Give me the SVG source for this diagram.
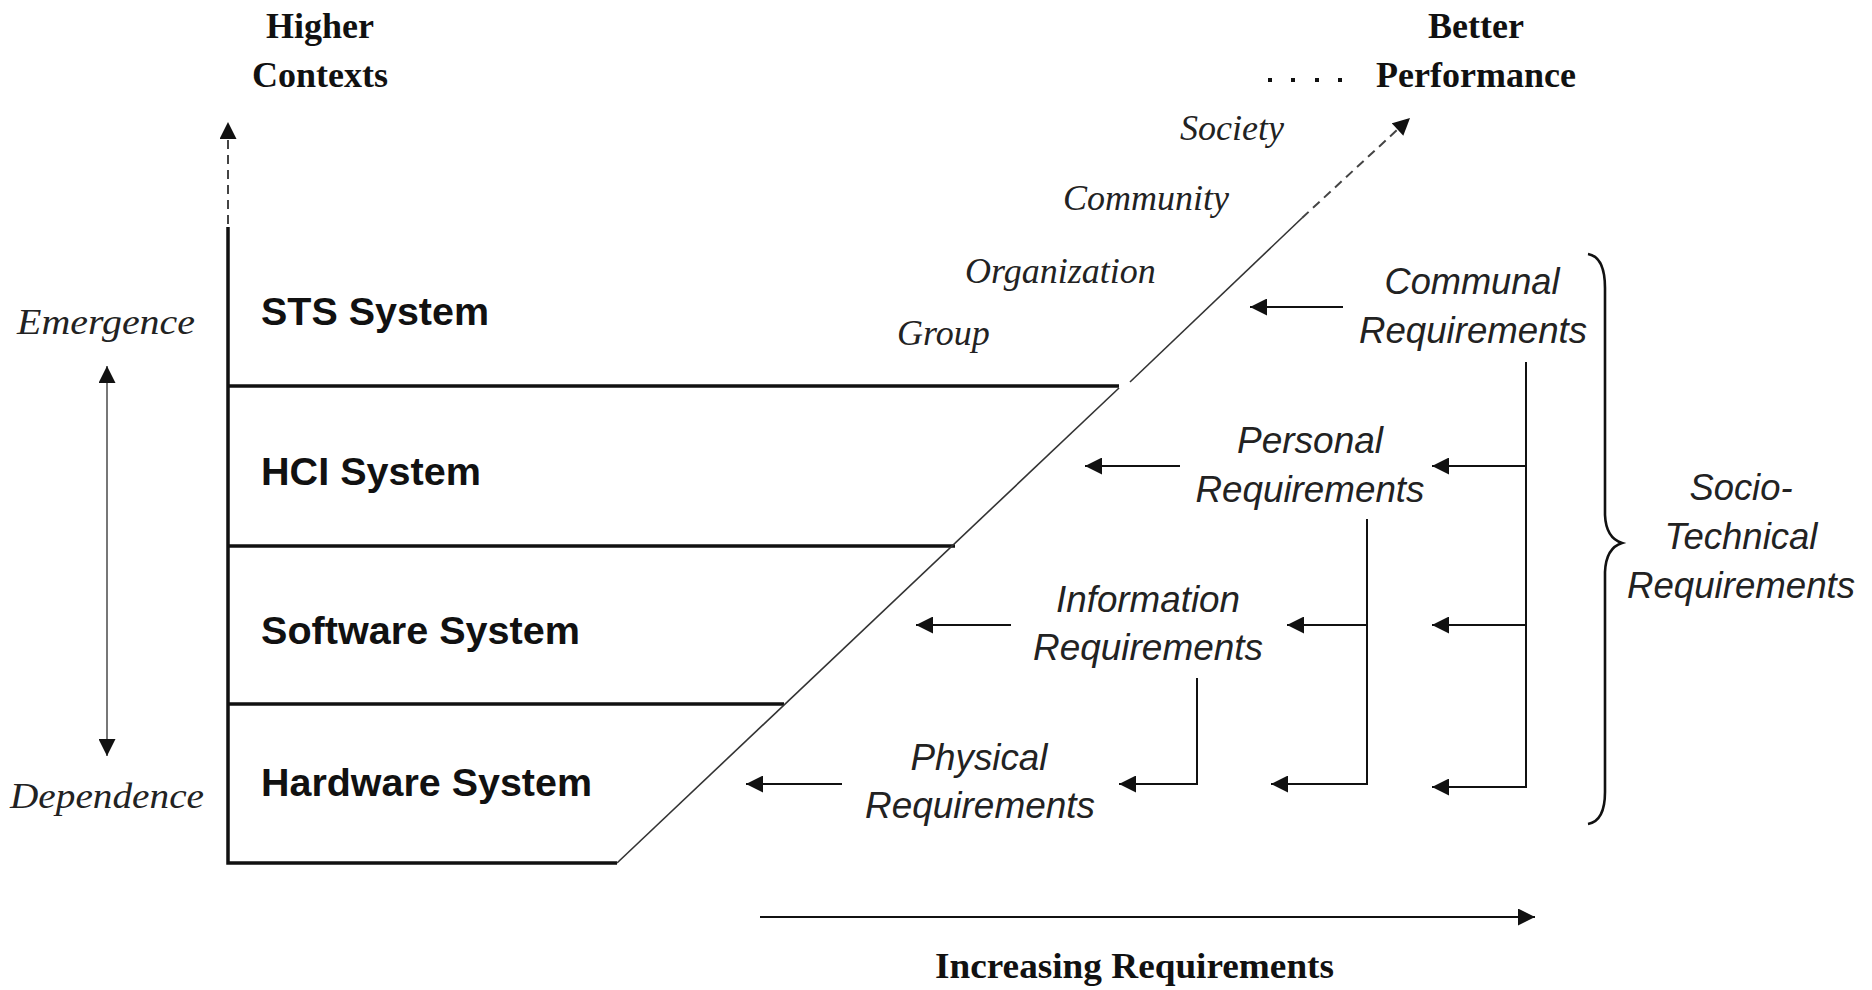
<svg xmlns="http://www.w3.org/2000/svg" width="1872" height="990" viewBox="0 0 1872 990">
<style>
.bg{fill:#fff}
.hdr{font-family:"Liberation Serif","Times New Roman",serif;font-weight:bold;font-size:36px;fill:#111}
.ctx{font-family:"Liberation Serif","Times New Roman",serif;font-style:italic;font-size:36px;fill:#222}
.lay{font-family:"Liberation Sans",Arial,sans-serif;font-weight:bold;font-size:39px;fill:#111}
.req{font-family:"Liberation Sans",Arial,sans-serif;font-style:italic;font-size:37px;fill:#222;text-anchor:middle}
.box{stroke:#111;stroke-width:3.5;fill:none}
.diag{stroke:#333;stroke-width:1.6;fill:none}
.con{stroke:#111;stroke-width:2;fill:none}
.dash{stroke:#444;stroke-width:2;fill:none;stroke-dasharray:9 6}
.thin{stroke:#555;stroke-width:1.6;fill:none}
</style>
<defs>
<marker id="ah" viewBox="0 0 10 10" refX="10" refY="5" markerWidth="18" markerHeight="17" markerUnits="userSpaceOnUse" orient="auto-start-reverse">
<path d="M0,0 L10,5 L0,10 z" fill="#111"/>
</marker>
</defs>
<rect class="bg" x="0" y="0" width="1872" height="990"/>

<g id="axis-labels">
<text class="hdr" x="320" y="38" text-anchor="middle">Higher</text>
<text class="hdr" x="320" y="87" text-anchor="middle">Contexts</text>
<text class="hdr" x="1476" y="38" text-anchor="middle">Better</text>
<text class="hdr" x="1476" y="87" text-anchor="middle">Performance</text>
<g fill="#111">
<rect x="1268" y="78" width="4" height="4"/>
<rect x="1291" y="78" width="4" height="4"/>
<rect x="1315" y="78" width="4" height="4"/>
<rect x="1338" y="78" width="4" height="4"/>
</g>
<text class="ctx" x="17" y="334" textLength="178" lengthAdjust="spacingAndGlyphs" font-size="34">Emergence</text>
<text class="ctx" x="10" y="808" textLength="194" lengthAdjust="spacingAndGlyphs" font-size="34">Dependence</text>
<text class="hdr" x="935" y="978" textLength="399" lengthAdjust="spacingAndGlyphs">Increasing Requirements</text>
</g>

<g id="contexts">
<text class="ctx" x="1180" y="140">Society</text>
<text class="ctx" x="1063" y="210">Community</text>
<text class="ctx" x="965" y="283">Organization</text>
<text class="ctx" x="897" y="345">Group</text>
</g>

<g id="structure">
<path class="box" d="M228,227 V863 H617"/>
<path class="box" d="M228,386 H1119"/>
<path class="box" d="M228,546 H955"/>
<path class="box" d="M228,704 H784"/>
<path class="diag" d="M617,863 L1119,388"/>
<path class="diag" d="M1130,382 L1302,218"/>
</g>

<g id="layer-sts"><text class="lay" x="261" y="325" textLength="228" lengthAdjust="spacingAndGlyphs">STS System</text></g>
<g id="layer-hci"><text class="lay" x="261" y="485" textLength="220" lengthAdjust="spacingAndGlyphs">HCI System</text></g>
<g id="layer-software"><text class="lay" x="261" y="644" textLength="319" lengthAdjust="spacingAndGlyphs">Software System</text></g>
<g id="layer-hardware"><text class="lay" x="261" y="796" textLength="331" lengthAdjust="spacingAndGlyphs">Hardware System</text></g>

<g id="req-communal">
<text class="req" x="1472" y="294" textLength="175" lengthAdjust="spacingAndGlyphs">Communal</text>
<text class="req" x="1473" y="343" textLength="228" lengthAdjust="spacingAndGlyphs">Requirements</text>
</g>
<g id="req-personal">
<text class="req" x="1310" y="453" textLength="146" lengthAdjust="spacingAndGlyphs">Personal</text>
<text class="req" x="1310" y="502" textLength="229" lengthAdjust="spacingAndGlyphs">Requirements</text>
</g>
<g id="req-information">
<text class="req" x="1148" y="612" textLength="184" lengthAdjust="spacingAndGlyphs">Information</text>
<text class="req" x="1148" y="660" textLength="230" lengthAdjust="spacingAndGlyphs">Requirements</text>
</g>
<g id="req-physical">
<text class="req" x="979" y="770" textLength="137" lengthAdjust="spacingAndGlyphs">Physical</text>
<text class="req" x="980" y="818" textLength="230" lengthAdjust="spacingAndGlyphs">Requirements</text>
</g>
<g id="req-sociotechnical">
<text class="req" x="1741" y="500" textLength="103" lengthAdjust="spacingAndGlyphs">Socio-</text>
<text class="req" x="1741" y="549" textLength="153" lengthAdjust="spacingAndGlyphs">Technical</text>
<text class="req" x="1741" y="598" textLength="228" lengthAdjust="spacingAndGlyphs">Requirements</text>
<path d="M1588,254 Q1605,257 1605,288 L1605,515 Q1606,538 1622,543 Q1606,548 1605,572 L1605,792 Q1605,821 1588,824" fill="none" stroke="#111" stroke-width="2.6"/>
</g>

<g id="connectors">
<path class="dash" d="M228,224 V122" marker-end="url(#ah)"/>
<path class="thin" d="M107,366 V756" marker-start="url(#ah)" marker-end="url(#ah)"/>
<path class="dash" d="M1302,218 L1410,118" marker-end="url(#ah)"/>
<path class="con" d="M1343,307 H1250" marker-end="url(#ah)"/>
<path class="con" d="M1180,466 H1085" marker-end="url(#ah)"/>
<path class="con" d="M1011,625 H916" marker-end="url(#ah)"/>
<path class="con" d="M842,784 H746" marker-end="url(#ah)"/>
<path class="con" d="M1526,362 V787 H1432" marker-end="url(#ah)"/>
<path class="con" d="M1526,466 H1432" marker-end="url(#ah)"/>
<path class="con" d="M1526,625 H1432" marker-end="url(#ah)"/>
<path class="con" d="M1367,519 V784 H1271" marker-end="url(#ah)"/>
<path class="con" d="M1367,625 H1287" marker-end="url(#ah)"/>
<path class="con" d="M1197,678 V784 H1119" marker-end="url(#ah)"/>
<path class="con" d="M760,917 H1535" stroke-width="3" marker-end="url(#ah)"/>
</g>
</svg>
